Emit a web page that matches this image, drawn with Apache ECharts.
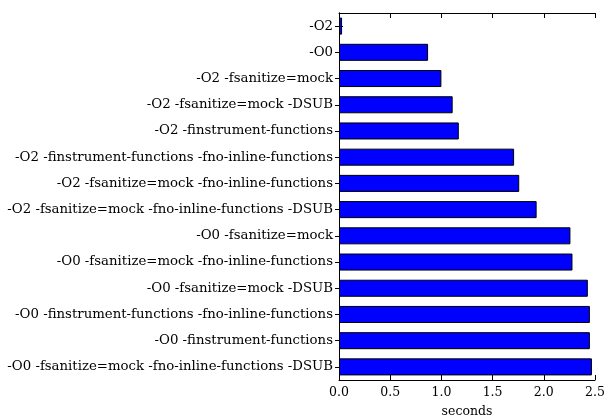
<!DOCTYPE html>
<html>
<head>
<meta charset="utf-8">
<script src="https://cdn.jsdelivr.net/npm/echarts@6/dist/echarts.min.js"></script>
<style>
  html, body { margin: 0; padding: 0; background: #fff; }
  #chart { width: 607px; height: 417px; }
</style>
</head>
<body>
<div id="chart"></div>
<script>
// build flag combinations, top to bottom
var flagSets = [
    '-O2',
    '-O0',
    '-O2 -fsanitize=mock',
    '-O2 -fsanitize=mock -DSUB',
    '-O2 -finstrument-functions',
    '-O2 -finstrument-functions -fno-inline-functions',
    '-O2 -fsanitize=mock -fno-inline-functions',
    '-O2 -fsanitize=mock -fno-inline-functions -DSUB',
    '-O0 -fsanitize=mock',
    '-O0 -fsanitize=mock -fno-inline-functions',
    '-O0 -fsanitize=mock -DSUB',
    '-O0 -finstrument-functions -fno-inline-functions',
    '-O0 -finstrument-functions',
    '-O0 -fsanitize=mock -fno-inline-functions -DSUB'
];
// run time in seconds
var runSeconds = [0.03, 0.87, 1.0, 1.11, 1.17, 1.71, 1.76, 1.93, 2.26, 2.28, 2.43, 2.45, 2.45, 2.47];
var secondTicks = [0, 0.5, 1.0, 1.5, 2.0, 2.5];

var serifFont = '"DejaVu Serif", "Liberation Serif", serif';

var chart = echarts.init(document.getElementById('chart'));

var frameLine = {show: true, lineStyle: {color: '#000', width: 1}};

var option = {
    backgroundColor: '#fff',
    animation: false,
    grid: {left: 339, right: 12, top: 13, bottom: 37, containLabel: false, outerBoundsMode: 'none'},
    xAxis: [
        {
            type: 'value',
            position: 'bottom',
            min: 0,
            max: 2.5,
            interval: 0.5,
            name: 'seconds',
            nameLocation: 'middle',
            nameGap: 25,
            nameTextStyle: {color: '#000', fontFamily: serifFont, fontSize: 12.5},
            axisLine: frameLine,
            axisTick: {show: true, inside: true, length: 5, lineStyle: {color: '#000'}},
            axisLabel: {
                color: '#000', fontFamily: serifFont, fontSize: 12.5, margin: 6,
                formatter: function (v) {
                    for (var i = 0; i < secondTicks.length; i++) {
                        if (Math.abs(secondTicks[i] - v) < 1e-9) return secondTicks[i].toFixed(1);
                    }
                    return '';
                }
            },
            splitLine: {show: false}
        },
        {
            type: 'value',
            position: 'top',
            min: 0,
            max: 2.5,
            interval: 0.5,
            axisLine: frameLine,
            axisTick: {show: true, inside: true, length: 5, lineStyle: {color: '#000'}},
            axisLabel: {show: false},
            splitLine: {show: false}
        }
    ],
    yAxis: [
        {
            type: 'category',
            position: 'left',
            inverse: true,
            data: flagSets,
            axisLine: frameLine,
            axisTick: {show: true, inside: true, alignWithLabel: true, length: 4, lineStyle: {color: '#000'}},
            axisLabel: {color: '#000', fontFamily: serifFont, fontSize: 13.3, margin: 6}
        },
        {
            type: 'category',
            position: 'right',
            inverse: true,
            data: flagSets,
            axisLine: frameLine,
            axisTick: {show: true, inside: true, alignWithLabel: true, length: 4, lineStyle: {color: '#000'}},
            axisLabel: {show: false}
        }
    ],
    series: [
        {
            type: 'bar',
            xAxisIndex: 0,
            yAxisIndex: 0,
            data: runSeconds,
            barCategoryGap: '35%',
            itemStyle: {color: '#0000ff', borderColor: '#000', borderWidth: 1}
        }
    ]
};

chart.setOption(option);
</script>
</body>
</html>
